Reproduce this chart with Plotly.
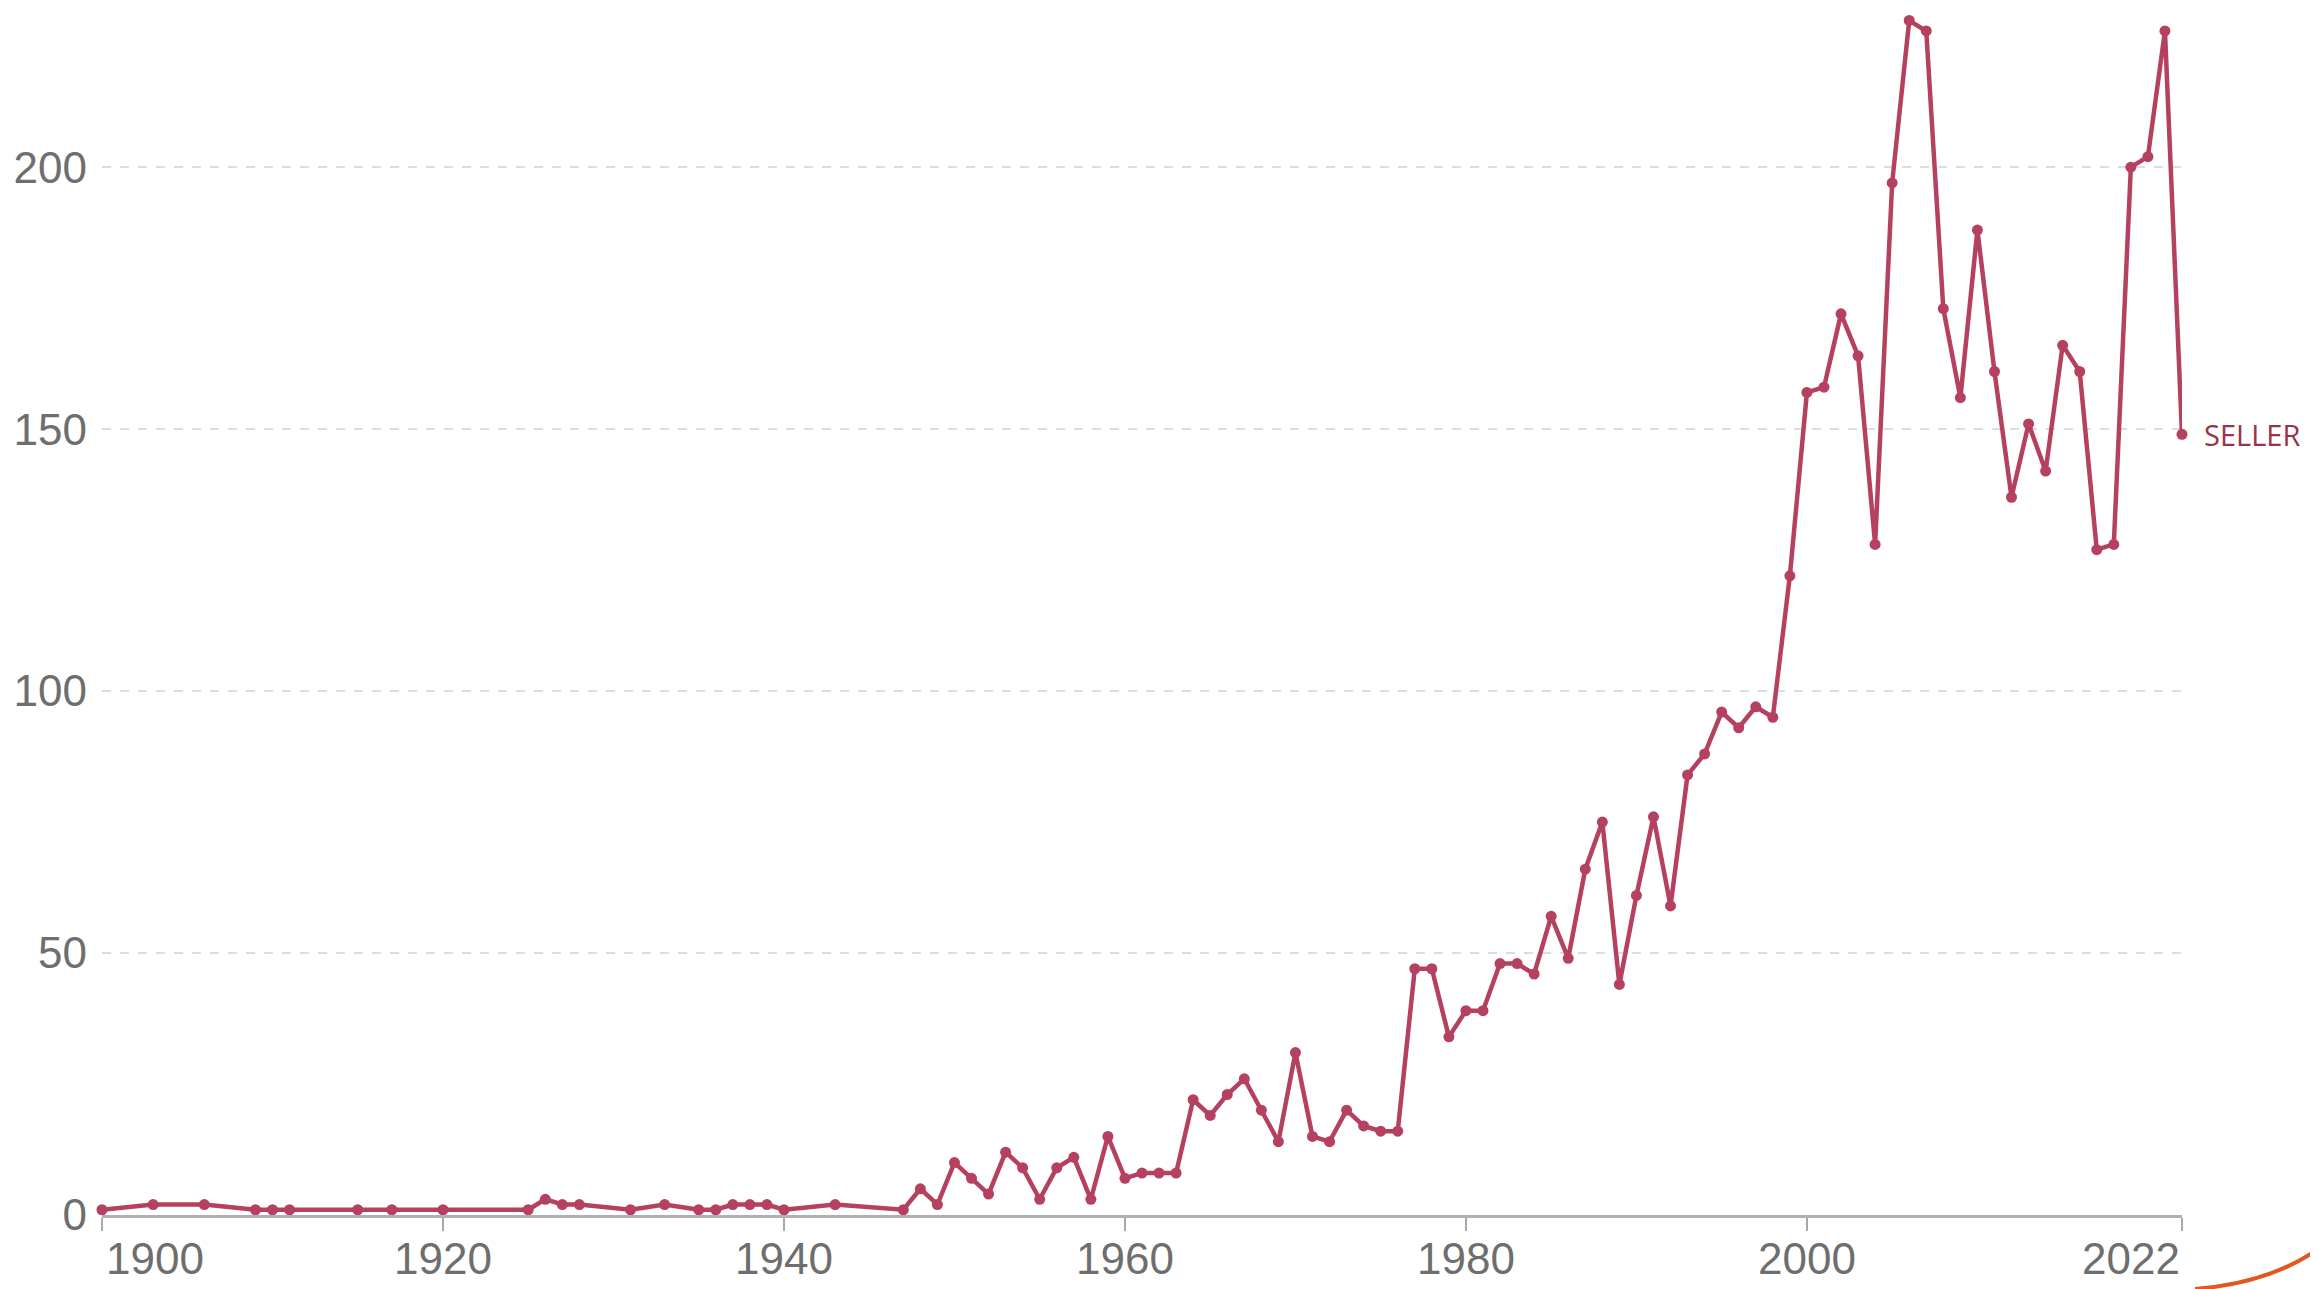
import plotly.graph_objects as go

years = [1900, 1903, 1906, 1909, 1910, 1911, 1915, 1917, 1920, 1925, 1926, 1927, 1928,
         1931, 1933, 1935, 1936, 1937, 1938, 1939, 1940, 1943, 1947, 1948, 1949,
         1950, 1951, 1952, 1953, 1954, 1955, 1956, 1957, 1958, 1959,
         1960, 1961, 1962, 1963, 1964, 1965, 1966, 1967, 1968, 1969,
         1970, 1971, 1972, 1973, 1974, 1975, 1976, 1977, 1978, 1979,
         1980, 1981, 1982, 1983, 1984, 1985, 1986, 1987, 1988, 1989,
         1990, 1991, 1992, 1993, 1994, 1995, 1996, 1997, 1998, 1999,
         2000, 2001, 2002, 2003, 2004, 2005, 2006, 2007, 2008, 2009,
         2010, 2011, 2012, 2013, 2014, 2015, 2016, 2017, 2018, 2019,
         2020, 2021, 2022]
values = [1, 2, 2, 1, 1, 1, 1, 1, 1, 1, 3, 2, 2,
          1, 2, 1, 1, 2, 2, 2, 1, 2, 1, 5, 2,
          10, 7, 4, 12, 9, 3, 9, 11, 3, 15,
          7, 8, 8, 8, 22, 19, 23, 26, 20, 14,
          31, 15, 14, 20, 17, 16, 16, 47, 47, 34,
          39, 39, 48, 48, 46, 57, 49, 66, 75, 44,
          61, 76, 59, 84, 88, 96, 93, 97, 95, 122,
          157, 158, 172, 164, 128, 197, 228, 226, 173, 156,
          188, 161, 137, 151, 142, 166, 161, 127, 128, 200,
          202, 226, 149]
series_name = "SELLER"
x_ticks = [1900, 1920, 1940, 1960, 1980, 2000, 2022]
y_ticks = [0, 50, 100, 150, 200]

LINE = "#b5415f"
TICK_GREY = "#6e6e6e"
FONT = "Liberation Sans, Arial, sans-serif"

fig = go.Figure()
fig.add_trace(go.Scatter(
    x=years, y=values, mode="lines+markers", name=series_name,
    line=dict(color=LINE, width=4.5),
    marker=dict(color=LINE, size=11),
    cliponaxis=False, showlegend=False,
))

annotations = []
for i, t in enumerate(x_ticks):
    anchor = "left" if i == 0 else ("right" if i == len(x_ticks) - 1 else "center")
    annotations.append(dict(
        x=t, y=0, xref="x", yref="paper", text=str(t), showarrow=False,
        xanchor=anchor, yanchor="top", yshift=-17,
        xshift=2 if anchor == "left" else 0,
        font=dict(family=FONT, size=44, color=TICK_GREY),
    ))
annotations.append(dict(
    x=years[-1], y=values[-1], xref="x", yref="y", text=series_name,
    showarrow=False, xanchor="left", yanchor="middle", xshift=20,
    font=dict(family="Open Sans, sans-serif", size=29, color="#9b3346"),
))

fig.update_layout(
    width=2310, height=1281,
    margin=dict(l=94, r=136, t=2, b=74, pad=0),
    paper_bgcolor="white", plot_bgcolor="white",
    annotations=annotations,
    shapes=[dict(
        type="path", xref="paper", yref="paper",
        path="M 1.0063,-0.0614 Q 1.0423,-0.0564 1.0654,-0.0282",
        line=dict(color="#e2561f", width=4),
    )],
)
fig.update_xaxes(
    range=[1900, 2022], tickvals=x_ticks, showticklabels=False,
    ticks="outside", ticklen=13, tickwidth=2, tickcolor="#a8a8a8",
    showline=True, linecolor="#b0b0b0", linewidth=3,
    showgrid=False, zeroline=False, fixedrange=True,
)
fig.update_yaxes(
    range=[0, 230], tickvals=y_ticks,
    tickfont=dict(family=FONT, size=44, color=TICK_GREY),
    ticks="", ticklabelstandoff=14,
    showgrid=True, gridcolor="#dddddd", gridwidth=2, griddash="dash",
    zeroline=False, showline=False, fixedrange=True,
)

fig.write_html("out.html")
